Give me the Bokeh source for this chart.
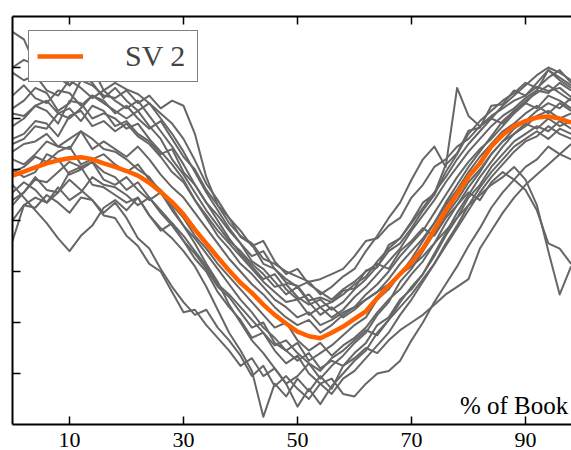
from bokeh.plotting import figure
from bokeh.models import Range1d, LinearAxis, FixedTicker, Legend, LegendItem, Label
from bokeh.embed import file_html
from bokeh.resources import INLINE

# percent of book (x positions)
pct = list(range(0, 100, 2))

# second singular vector (orange)
sv2 = [0.88, 0.96, 1.04, 1.12, 1.18, 1.22, 1.24, 1.20, 1.12, 1.05,
       0.97, 0.88, 0.74, 0.56, 0.36, 0.12, -0.18, -0.45, -0.72, -0.98,
       -1.22, -1.42, -1.65, -1.85, -2.02, -2.18, -2.27, -2.31, -2.20, -2.08,
       -1.93, -1.78, -1.52, -1.28, -1.05, -0.82, -0.55, -0.18, 0.19, 0.52,
       0.86, 1.12, 1.45, 1.68, 1.85, 1.95, 2.02, 2.04, 2.00, 1.92]

# individual books (grey)
book_a = [3.70, 3.55, 3.05, 3.10, 2.80, 2.65, 2.95, 3.00, 2.55, 2.70,
          2.57, 2.48, 2.30, 2.10, 1.90, 1.60, 1.18, 0.72, 0.40, 0.05,
          -0.32, -0.47, -0.85, -0.95, -1.22, -1.28, -1.57, -1.51, -1.60, -1.38,
          -1.33, -0.98, -0.92, -0.48, -0.35, -0.02, 0.35, 0.52, 1.09, 1.32,
          1.76, 1.82, 2.25, 2.28, 2.55, 2.45, 2.62, 2.54, 2.60, 2.42]
book_b = [2.20, 2.35, 2.60, 2.50, 2.15, 2.30, 2.75, 2.65, 2.45, 2.40,
          2.55, 2.30, 2.45, 2.20, 2.35, 2.25, 1.70, 0.85, 0.30, -0.05,
          -0.30, -0.45, -0.75, -0.85, -1.00, -1.10, -1.20, -1.15, -1.05, -0.95,
          -0.70, -0.40, -0.35, -0.10, 0.05, 0.45, 0.70, 1.05, 1.20, 1.45,
          1.60, 1.85, 2.05, 2.20, 2.35, 2.45, 2.70, 2.95, 2.80, 2.65]
book_c = [1.50, 1.60, 1.85, 1.80, 2.10, 2.20, 1.95, 2.25, 2.15, 1.85,
          1.95, 1.70, 1.55, 1.30, 1.40, 0.95, 0.70, 0.35, 0.10, -0.20,
          -0.45, -0.70, -0.60, -0.95, -1.15, -1.30, -1.20, -1.45, -1.30, -1.10,
          -0.95, -0.60, -0.30, 0.05, 0.35, 0.80, 1.20, 1.45, 1.05, 2.60,
          2.05, 1.85, 2.00, 1.90, 2.15, 2.30, 2.20, 2.45, 2.35, 2.20]
book_d = [0.40, 0.55, 0.85, 0.60, 0.55, 0.95, 1.05, 0.70, 0.65, 0.50,
          0.35, 0.45, 0.10, -0.15, -0.35, -0.60, -0.90, -1.30, -1.75, -2.20,
          -2.55, -2.95, -3.85, -3.20, -3.45, -3.10, -3.35, -3.05, -3.30, -2.85,
          -2.60, -2.40, -2.05, -1.90, -1.55, -1.35, -1.05, -0.70, -0.30, 0.05,
          0.45, 0.70, 1.05, 1.30, 1.55, 1.70, 1.85, 1.75, 1.95, 1.80]
book_e = [1.20, 1.10, 1.30, 1.55, 1.45, 1.40, 1.75, 1.60, 1.40, 1.35,
          1.20, 1.00, 0.85, 0.55, 0.25, -0.10, -0.45, -0.85, -1.20, -1.65,
          -2.00, -2.35, -2.60, -2.90, -3.20, -3.65, -3.30, -3.60, -3.25, -3.00,
          -2.75, -2.55, -2.20, -1.95, -1.60, -1.30, -1.05, -0.65, -0.25, 0.15,
          0.50, 0.85, 1.15, 1.45, 1.70, 1.85, 2.05, 2.15, 2.00, 2.10]
book_f = [0.00, 0.30, 0.45, 0.35, 0.65, 0.40, 0.55, 0.85, 0.70, 0.65,
          0.50, 0.30, 0.45, 0.15, -0.10, -0.40, -0.75, -1.00, -1.40, -1.70,
          -1.95, -2.30, -2.20, -2.55, -2.80, -2.65, -3.00, -3.20, -3.10, -3.40,
          -3.45, -3.20, -3.00, -2.95, -2.75, -2.35, -2.00, -1.60, -1.25, -0.90,
          -0.50, -0.15, 0.25, 0.55, 0.80, 1.05, 1.20, 1.45, 1.30, 1.50]
book_g = [-0.40, 0.30, 0.25, 0.50, 0.35, 0.15, 0.45, 0.40, 0.10, 0.05,
          -0.30, -0.50, -0.85, -1.00, -1.40, -1.80, -1.75, -2.05, -2.30, -2.55,
          -2.85, -2.70, -3.05, -2.90, -3.20, -3.05, -2.80, -3.10, -2.85, -2.65,
          -2.40, -2.20, -1.85, -1.60, -1.20, -0.95, -0.60, -0.25, 0.10, 0.40,
          0.75, 1.00, 1.30, 1.55, 1.70, 1.90, 1.80, 2.00, 1.85, 1.95]
book_h = [0.70, 0.45, 0.20, -0.05, -0.35, -0.60, -0.30, -0.10, 0.25, 0.40,
          0.20, 0.45, 0.10, -0.20, -0.05, -0.40, -0.65, -0.95, -1.30, -1.50,
          -1.80, -2.10, -2.00, -2.40, -2.55, -2.40, -2.75, -2.60, -2.45, -2.25,
          -2.05, -1.90, -1.55, -1.35, -1.05, -0.75, -0.40, -0.05, 0.30, 0.60,
          0.95, 1.25, 1.50, 1.75, 1.90, 2.10, 2.25, 2.10, 2.30, 2.15]
book_i = [1.85, 2.00, 2.25, 2.15, 1.90, 2.35, 2.30, 2.00, 2.10, 2.00,
          1.80, 1.90, 1.60, 1.35, 1.10, 0.80, 0.40, 0.05, -0.30, -0.55,
          -0.85, -1.05, -1.30, -1.55, -1.70, -1.90, -1.80, -2.05, -1.95, -1.80,
          -1.70, -1.55, -1.40, -1.25, -1.05, -0.90, -0.70, -0.45, -0.20, 0.05,
          0.30, 0.50, 0.70, 0.85, 1.05, 0.80, 0.30, -0.60, -1.45, -0.90]
book_j = [2.45, 2.65, 2.40, 2.30, 2.55, 2.50, 2.25, 2.45, 2.35, 2.10,
          2.25, 2.00, 1.80, 1.95, 1.60, 1.25, 1.00, 0.60, 0.30, 0.05,
          -0.20, -0.50, -0.40, -0.80, -1.05, -0.95, -1.25, -1.40, -1.55, -1.35,
          -1.20, -1.00, -0.85, -0.95, -0.60, -0.40, -0.15, -0.30, 0.05, 0.30,
          0.55, 0.40, 0.75, 0.95, 0.80, 0.60, 0.20, -0.45, -0.55, -0.85]
book_k = [1.00, 0.85, 0.95, 1.30, 1.20, 0.90, 1.00, 1.15, 0.80, 0.70,
          0.85, 0.60, 0.40, 0.55, 0.20, -0.10, -0.35, -0.65, -0.95, -1.25,
          -1.55, -1.80, -2.10, -2.30, -2.55, -2.75, -2.60, -2.90, -2.75, -2.85,
          -2.70, -2.50, -2.60, -2.35, -2.15, -2.00, -1.85, -1.65, -1.45, -1.30,
          -1.15, -0.55, -0.20, 0.15, 0.45, 0.70, 0.90, 1.10, 1.30, 1.20]
book_l = [0.55, 0.75, 0.60, 0.35, 0.55, 0.80, 0.60, 0.40, 0.15, 0.35,
          0.05, -0.35, -0.55, -0.95, -1.30, -1.60, -1.85, -1.75, -2.10, -2.35,
          -2.65, -3.05, -2.85, -3.25, -3.05, -3.30, -3.50, -3.20, -3.40, -3.10,
          -2.95, -2.70, -2.45, -2.20, -1.85, -1.55, -1.20, -0.85, -0.45, -0.10,
          0.30, 0.65, 0.95, 1.20, 1.45, 1.60, 1.75, 1.60, 1.80, 1.70]
book_m = [1.60, 1.70, 1.95, 1.90, 1.65, 2.05, 2.15, 1.85, 1.95, 1.75,
          1.90, 1.65, 1.50, 1.25, 0.95, 0.75, 0.40, 0.10, -0.20, -0.45,
          -0.70, -0.95, -1.20, -1.40, -1.60, -1.55, -1.85, -1.70, -1.90, -1.75,
          -1.50, -1.30, -1.05, -0.80, -0.55, -0.20, 0.10, 0.40, 0.75, 1.05,
          1.35, 1.60, 1.85, 2.05, 2.20, 2.40, 2.55, 2.50, 2.70, 2.55]
book_n = [2.90, 2.75, 2.85, 2.55, 2.45, 2.75, 2.60, 2.40, 2.55, 2.35,
          2.20, 2.35, 2.05, 1.75, 1.45, 1.10, 0.70, 0.35, 0.00, -0.35,
          -0.65, -0.90, -1.15, -1.05, -1.35, -1.55, -1.45, -1.70, -1.60, -1.45,
          -1.25, -1.10, -0.80, -0.55, -0.35, -0.05, 0.25, 0.55, 0.85, 1.20,
          1.50, 1.75, 2.00, 2.25, 2.45, 2.65, 2.85, 3.00, 2.90, 2.75]
book_o = [0.95, 1.05, 1.25, 1.15, 1.35, 1.45, 1.10, 1.20, 1.30, 1.10,
          0.95, 1.10, 0.80, 0.60, 0.30, 0.05, -0.30, -0.55, -0.85, -1.10,
          -1.35, -1.60, -1.85, -2.10, -2.00, -2.35, -2.55, -2.40, -2.65, -2.45,
          -2.30, -2.10, -1.80, -1.55, -1.35, -1.05, -0.80, -0.45, -0.05, 0.30,
          0.65, 0.95, 1.30, 1.55, 1.80, 1.95, 2.15, 2.30, 2.20, 2.40]
book_p = [2.10, 2.05, 2.25, 2.35, 2.10, 2.00, 2.20, 2.45, 2.30, 2.15,
          2.00, 2.15, 1.85, 1.60, 1.20, 0.90, 0.55, 0.20, -0.10, -0.40,
          -0.60, -0.85, -1.05, -1.30, -1.25, -1.50, -1.65, -1.55, -1.75, -1.60,
          -1.35, -1.15, -0.90, -0.60, -0.45, -0.15, 0.20, 0.50, 0.95, 1.30,
          1.70, 1.95, 2.15, 2.35, 2.50, 2.70, 2.60, 2.80, 2.95, 2.70]
book_q = [0.30, 0.55, 0.80, 0.75, 0.95, 1.15, 1.05, 1.15, 0.95, 0.85,
          0.60, 0.75, 0.45, 0.20, -0.05, -0.30, -0.60, -0.90, -1.25, -1.45,
          -1.70, -1.95, -2.20, -2.45, -2.35, -2.60, -2.80, -2.95, -2.70, -2.55,
          -2.35, -2.15, -2.25, -1.95, -1.70, -1.45, -1.15, -0.85, -0.50, -0.15,
          0.20, 0.55, 0.85, 1.10, 1.35, 1.55, 1.65, 1.85, 1.70, 1.60]
book_r = [3.00, 3.15, 3.05, 2.80, 2.95, 2.65, 2.85, 2.70, 2.40, 2.60,
          2.35, 2.15, 2.30, 2.00, 1.70, 1.35, 0.95, 0.55, 0.20, -0.15,
          -0.45, -0.80, -0.95, -1.20, -1.45, -1.30, -1.60, -1.85, -1.70, -1.90,
          -1.75, -1.55, -1.40, -1.15, -0.85, -0.60, -0.35, -0.05, 0.35, 0.70,
          1.05, 1.35, 1.65, 1.95, 2.15, 2.35, 2.50, 2.65, 2.50, 2.35]
book_s = [1.35, 1.50, 1.55, 1.70, 1.45, 1.60, 1.75, 1.40, 1.55, 1.40,
          1.25, 1.45, 1.20, 0.90, 0.65, 0.45, 0.15, -0.15, -0.45, -0.75,
          -1.00, -1.25, -1.45, -1.70, -1.90, -2.05, -1.95, -2.20, -2.05, -1.85,
          -1.70, -1.45, -1.25, -1.00, -0.70, -0.45, -0.20, 0.15, 0.50, 0.85,
          1.15, 1.40, 1.60, 1.85, 2.10, 2.30, 2.55, 2.95, 2.75, 2.60]

books = [book_a, book_b, book_c, book_d, book_e, book_f, book_g, book_h, book_i,
         book_j, book_k, book_l, book_m, book_n, book_o, book_p, book_q, book_r, book_s]

x_ticks = [10, 30, 50, 70, 90]
y_ticks = [-3, -2, -1, 0, 1, 2, 3]

SERIF = "Liberation Serif"

p = figure(width=571, height=450,
           x_range=Range1d(0, 98.07), y_range=Range1d(-4, 4),
           output_backend="svg", toolbar_location=None,
           min_border_left=12, min_border_right=0,
           min_border_top=16, min_border_bottom=26)
p.outline_line_color = None
p.grid.visible = False
p.background_fill_color = "white"
p.border_fill_color = "white"

for b in books:
    p.line(pct, b, line_color="#666666", line_width=2, line_join="round")

r_sv = p.line(pct, sv2, line_color="#ff6000", line_width=4.5, line_join="round")

def style_axis(ax, ticks, labels):
    ax.axis_line_width = 2
    ax.axis_line_color = "black"
    ax.major_tick_in = 8
    ax.major_tick_out = 0
    ax.major_tick_line_width = 1.5
    ax.major_tick_line_color = "black"
    ax.minor_tick_line_color = None
    if labels:
        ax.major_label_text_font = SERIF
        ax.major_label_text_font_size = "22px"
        ax.major_label_text_color = "black"
        ax.major_label_standoff = 8
    else:
        ax.major_label_overrides = {t: "" for t in ticks}
        ax.major_label_text_font_size = "1px"
        ax.major_label_standoff = 0

xb = p.xaxis[0]
xb.ticker = FixedTicker(ticks=x_ticks)
style_axis(xb, x_ticks, True)

yl = p.yaxis[0]
yl.ticker = FixedTicker(ticks=y_ticks)
style_axis(yl, y_ticks, False)

xt = LinearAxis(ticker=FixedTicker(ticks=x_ticks))
style_axis(xt, x_ticks, False)
p.add_layout(xt, "above")

# tuple location = bottom-left corner of the legend, from the frame's bottom-left
legend = Legend(items=[LegendItem(label="SV 2", renderers=[r_sv])],
                location=(16, 342), padding=8,
                glyph_width=46, label_standoff=42, label_width=64,
                label_text_font=SERIF, label_text_font_size="30px",
                border_line_color="black", border_line_width=1.5,
                background_fill_color="white", background_fill_alpha=1.0)
p.add_layout(legend)

p.add_layout(Label(x=97.5, y=-3.62, text="% of Book", text_align="right",
                   text_baseline="alphabetic", text_font=SERIF,
                   text_font_size="25px", text_color="black"))

open("out.html", "w").write(file_html(p, INLINE))
